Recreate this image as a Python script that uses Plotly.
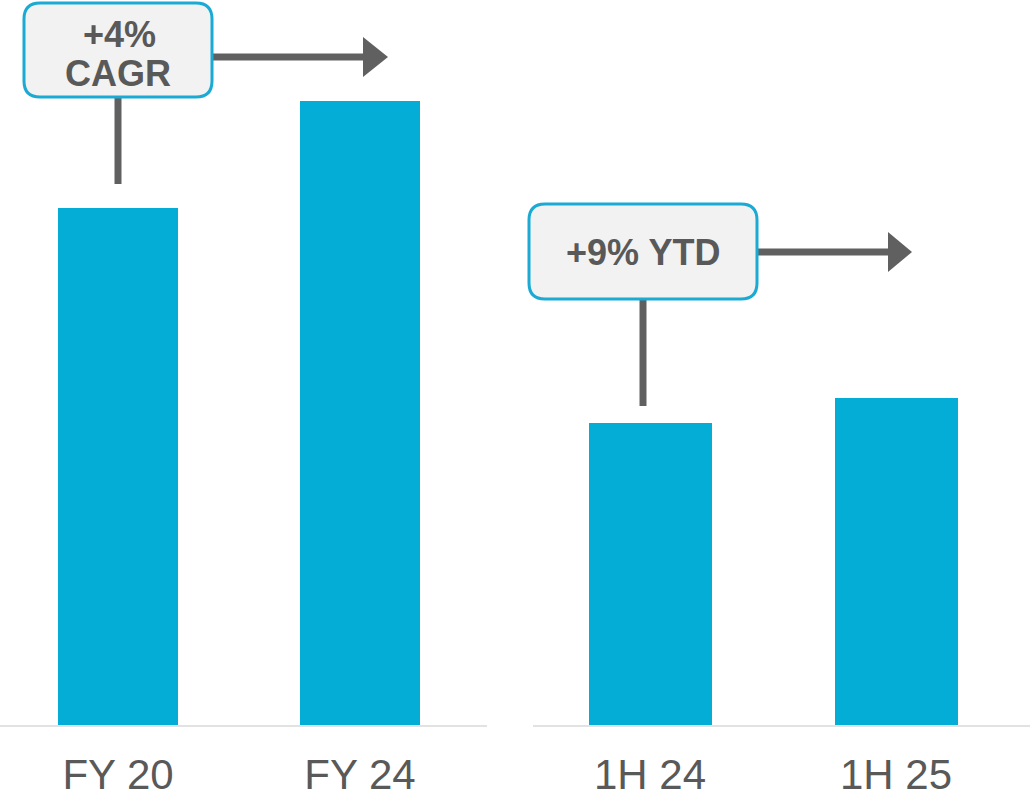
import plotly.graph_objects as go

# ---- data ----
periods_full = ["FY 20", "FY 24"]
values_full = [517, 624]
periods_half = ["1H 24", "1H 25"]
values_half = [302, 327]
label_full = ["+4%", "CAGR"]
label_half = "+9% YTD"

W, H = 1033, 798
MB = 73
PH = H - MB

BAR = "#03ADD6"
GREY = "#606060"
TXT = "#595959"
BORDER = "#1AAAD4"
FILL = "#F2F2F2"
FONT = "Liberation Sans, Arial, sans-serif"


def px(x):
    return x / W


def py(y):
    return (PH - y) / PH


def rrect(x0, y0, x1, y1, r):
    X0, X1 = px(x0), px(x1)
    Y0, Y1 = py(y0), py(y1)
    rx, ry = r / W, r / PH
    return (f"M {X0+rx},{Y0} L {X1-rx},{Y0} Q {X1},{Y0} {X1},{Y0-ry} "
            f"L {X1},{Y1+ry} Q {X1},{Y1} {X1-rx},{Y1} L {X0+rx},{Y1} "
            f"Q {X0},{Y1} {X0},{Y1+ry} L {X0},{Y0-ry} Q {X0},{Y0} {X0+rx},{Y0} Z")


def tri(xl, yc, xt, hh):
    return (f"M {px(xl)},{py(yc-hh)} L {px(xt)},{py(yc)} L {px(xl)},{py(yc+hh)} Z")


fig = go.Figure()
fig.add_trace(go.Bar(x=periods_full, y=values_full, xaxis="x", yaxis="y",
                     marker=dict(color=BAR, line=dict(width=0)), width=0.497,
                     hoverinfo="skip"))
fig.add_trace(go.Bar(x=periods_half, y=values_half, xaxis="x2", yaxis="y",
                     marker=dict(color=BAR, line=dict(width=0)), width=0.5,
                     hoverinfo="skip"))

axis_common = dict(showline=True, linecolor="#E2E2E2", linewidth=2, ticks="",
                   showgrid=False, zeroline=False, automargin=False,
                   tickfont=dict(size=42, color=TXT, family=FONT),
                   ticklabelstandoff=12,
                   fixedrange=True)

shapes = []
line_style = dict(color=GREY, width=7)
# connector + arrow 1
shapes.append(dict(type="line", xref="paper", yref="paper", x0=px(118), x1=px(118),
                   y0=py(97), y1=py(184), line=line_style))
shapes.append(dict(type="line", xref="paper", yref="paper", x0=px(212), x1=px(366),
                   y0=py(57), y1=py(57), line=line_style))
shapes.append(dict(type="path", xref="paper", yref="paper", path=tri(363, 57, 388, 20),
                   fillcolor=GREY, line=dict(width=0)))
shapes.append(dict(type="path", xref="paper", yref="paper", path=rrect(24, 3, 212, 97, 16),
                   fillcolor=FILL, line=dict(color=BORDER, width=3)))
# connector + arrow 2
shapes.append(dict(type="line", xref="paper", yref="paper", x0=px(643), x1=px(643),
                   y0=py(299), y1=py(406), line=line_style))
shapes.append(dict(type="line", xref="paper", yref="paper", x0=px(757), x1=px(890),
                   y0=py(252), y1=py(252), line=line_style))
shapes.append(dict(type="path", xref="paper", yref="paper", path=tri(888, 252, 912, 20),
                   fillcolor=GREY, line=dict(width=0)))
shapes.append(dict(type="path", xref="paper", yref="paper", path=rrect(529, 204, 757, 299, 16),
                   fillcolor=FILL, line=dict(color=BORDER, width=3)))

ann_font = dict(size=36, color=TXT, family=FONT)
annotations = [
    dict(xref="paper", yref="paper", x=px(119), y=py(34), text=f"<b>{label_full[0]}</b>",
         showarrow=False, font=ann_font, xanchor="center", yanchor="middle"),
    dict(xref="paper", yref="paper", x=px(118), y=py(73), text=f"<b>{label_full[1]}</b>",
         showarrow=False, font=ann_font, xanchor="center", yanchor="middle"),
    dict(xref="paper", yref="paper", x=px(643), y=py(252), text=f"<b>{label_half}</b>",
         showarrow=False, font=ann_font, xanchor="center", yanchor="middle"),
]

fig.update_layout(
    width=W, height=H,
    margin=dict(l=0, r=0, t=0, b=MB, pad=0, autoexpand=False),
    paper_bgcolor="white", plot_bgcolor="white",
    showlegend=False,
    bargap=0,
    xaxis=dict(domain=[0, 487 / W], range=[-0.488, 1.525], anchor="y", **axis_common),
    xaxis2=dict(domain=[533 / W, 1030 / W], range=[-0.4756, 1.5447], anchor="y", **axis_common),
    yaxis=dict(range=[0, PH], visible=False, fixedrange=True),
    shapes=shapes,
    annotations=annotations,
    font=dict(family=FONT),
)

fig.write_html("out.html", config={"displayModeBar": False})
